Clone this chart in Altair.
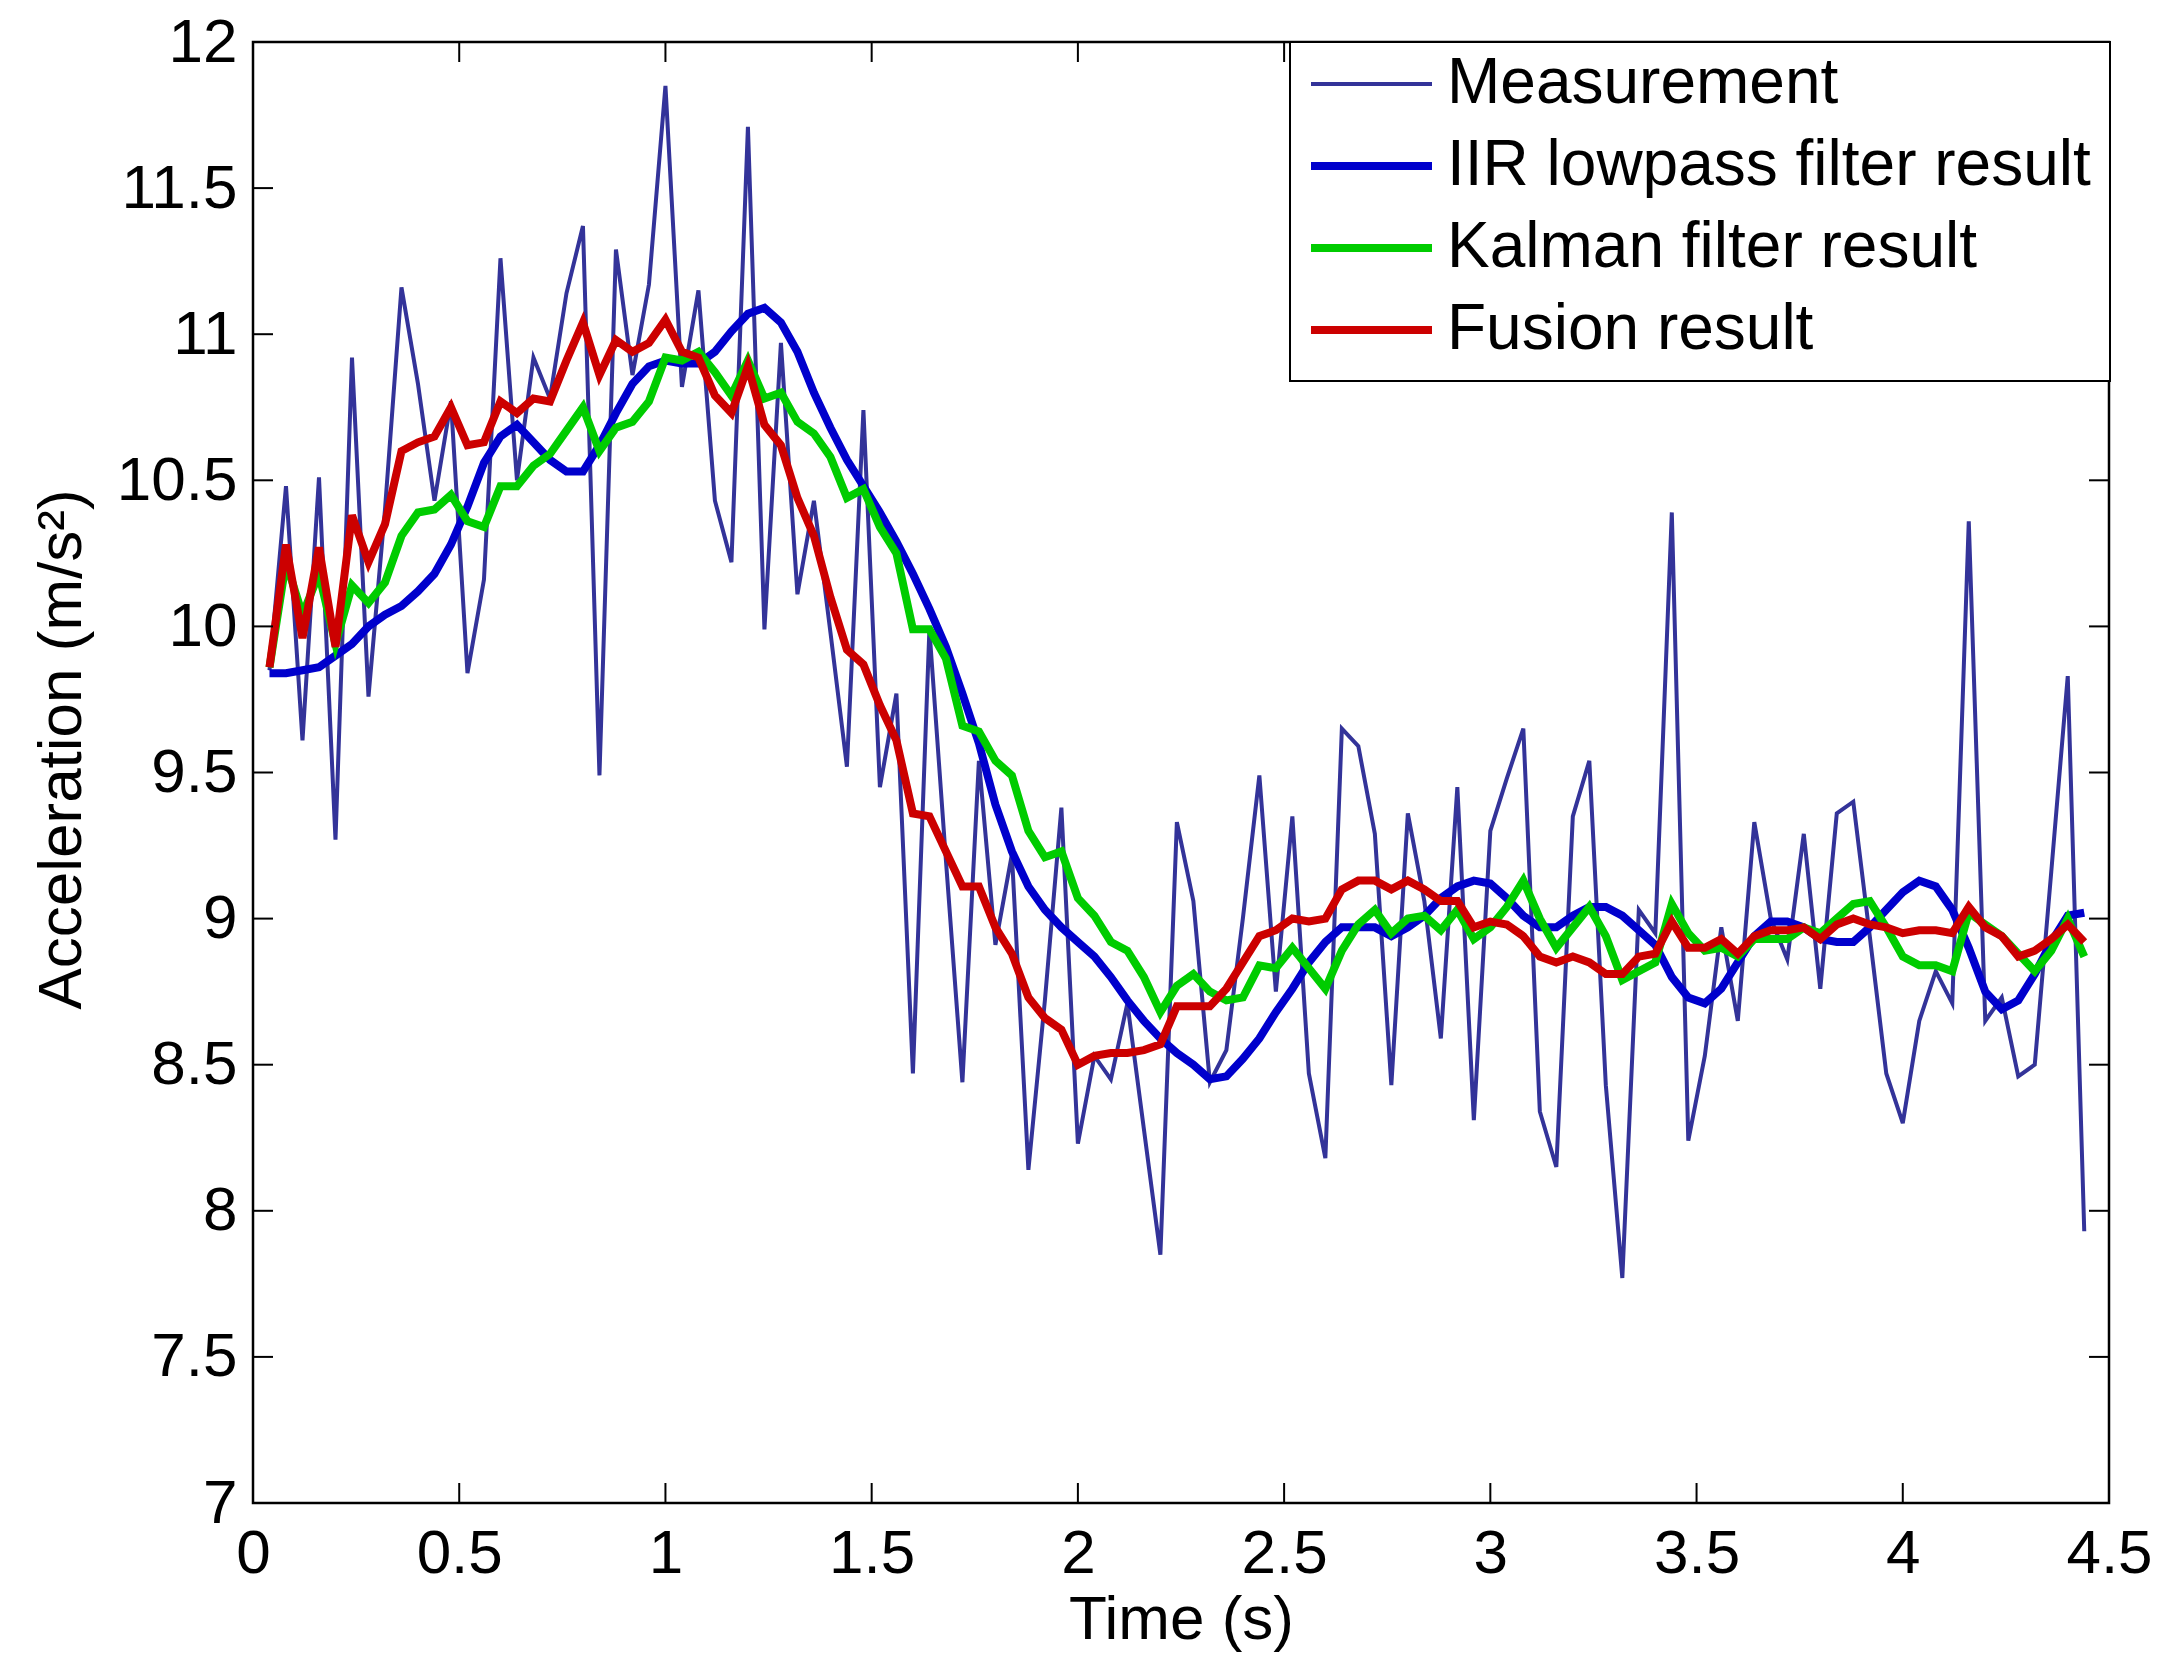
import altair as alt
import pandas as pd

# ---------------- data ----------------
time_s = [
    0.04, 0.08, 0.12, 0.16, 0.20, 0.24, 0.28, 0.32, 0.36, 0.40,
    0.44, 0.48, 0.52, 0.56, 0.60, 0.64, 0.68, 0.72, 0.76, 0.80,
    0.84, 0.88, 0.92, 0.96, 1.00, 1.04, 1.08, 1.12, 1.16, 1.20,
    1.24, 1.28, 1.32, 1.36, 1.40, 1.44, 1.48, 1.52, 1.56, 1.60,
    1.64, 1.68, 1.72, 1.76, 1.80, 1.84, 1.88, 1.92, 1.96, 2.00,
    2.04, 2.08, 2.12, 2.16, 2.20, 2.24, 2.28, 2.32, 2.36, 2.40,
    2.44, 2.48, 2.52, 2.56, 2.60, 2.64, 2.68, 2.72, 2.76, 2.80,
    2.84, 2.88, 2.92, 2.96, 3.00, 3.04, 3.08, 3.12, 3.16, 3.20,
    3.24, 3.28, 3.32, 3.36, 3.40, 3.44, 3.48, 3.52, 3.56, 3.60,
    3.64, 3.68, 3.72, 3.76, 3.80, 3.84, 3.88, 3.92, 3.96, 4.00,
    4.04, 4.08, 4.12, 4.16, 4.20, 4.24, 4.28, 4.32, 4.36, 4.40,
    4.44,
]

measurement = [
    9.85, 10.48, 9.61, 10.51, 9.27, 10.92, 9.76, 10.40, 11.16, 10.83,
    10.43, 10.77, 9.84, 10.16, 11.26, 10.50, 10.92, 10.78, 11.14, 11.37,
    9.49, 11.29, 10.86, 11.17, 11.85, 10.82, 11.15, 10.43, 10.22, 11.71,
    9.99, 10.97, 10.11, 10.43, 9.98, 9.52, 10.74, 9.45, 9.77, 8.47,
    9.99, 9.20, 8.44, 9.54, 8.91, 9.22, 8.14, 8.72, 9.38, 8.23,
    8.53, 8.45, 8.71, 8.28, 7.85, 9.33, 9.06, 8.44, 8.55, 9.00,
    9.49, 8.75, 9.35, 8.47, 8.18, 9.65, 9.59, 9.29, 8.43, 9.36,
    9.06, 8.59, 9.45, 8.31, 9.30, 9.48, 9.65, 8.34, 8.15, 9.35,
    9.54, 8.43, 7.77, 9.03, 8.95, 10.39, 8.24, 8.53, 8.97, 8.65,
    9.33, 9.00, 8.86, 9.29, 8.76, 9.36, 9.40, 8.94, 8.47, 8.30,
    8.65, 8.82, 8.71, 10.36, 8.65, 8.73, 8.46, 8.50, 9.16, 9.83,
    7.93,
]

iir_lowpass = [
    9.84, 9.84, 9.85, 9.86, 9.90, 9.94, 10.00, 10.04, 10.07, 10.12,
    10.18, 10.28, 10.41, 10.56, 10.65, 10.69, 10.63, 10.57, 10.53, 10.53,
    10.62, 10.73, 10.83, 10.89, 10.91, 10.90, 10.90, 10.94, 11.01, 11.07,
    11.09, 11.04, 10.94, 10.80, 10.68, 10.57, 10.48, 10.39, 10.29, 10.18,
    10.06, 9.93, 9.77, 9.60, 9.39, 9.23, 9.11, 9.03, 8.97, 8.92,
    8.87, 8.80, 8.72, 8.65, 8.59, 8.54, 8.50, 8.45, 8.46, 8.52,
    8.59, 8.68, 8.76, 8.85, 8.92, 8.97, 8.97, 8.97, 8.94, 8.97,
    9.01, 9.07, 9.11, 9.13, 9.12, 9.07, 9.01, 8.97, 8.97, 9.01,
    9.04, 9.04, 9.01, 8.96, 8.91, 8.80, 8.73, 8.71, 8.76, 8.85,
    8.94, 8.99, 8.99, 8.97, 8.93, 8.92, 8.92, 8.97, 9.03, 9.09,
    9.13, 9.11, 9.03, 8.90, 8.75, 8.69, 8.72, 8.81, 8.92, 9.01,
    9.02,
]

kalman = [
    9.86, 10.22, 10.04, 10.18, 9.94, 10.14, 10.08, 10.15, 10.31, 10.39,
    10.40, 10.45, 10.36, 10.34, 10.48, 10.48, 10.55, 10.59, 10.67, 10.75,
    10.60, 10.68, 10.70, 10.77, 10.92, 10.91, 10.94, 10.87, 10.79, 10.91,
    10.78, 10.80, 10.70, 10.66, 10.58, 10.44, 10.47, 10.34, 10.25, 9.99,
    9.99, 9.89, 9.66, 9.64, 9.54, 9.49, 9.30, 9.21, 9.23, 9.07,
    9.01, 8.92, 8.89, 8.80, 8.68, 8.77, 8.81, 8.75, 8.72, 8.73,
    8.84, 8.83, 8.90, 8.83, 8.76, 8.89, 8.98, 9.03, 8.95, 9.00,
    9.01, 8.96, 9.03, 8.93, 8.97, 9.04, 9.13, 9.00, 8.90, 8.97,
    9.04, 8.94, 8.79, 8.82, 8.85, 9.05, 8.95, 8.89, 8.90, 8.87,
    8.93, 8.93, 8.93, 8.97, 8.95, 9.00, 9.05, 9.06, 8.97, 8.87,
    8.84, 8.84, 8.82, 9.02, 8.98, 8.94, 8.88, 8.82, 8.89, 9.00,
    8.87,
]

fusion = [
    9.86, 10.28, 9.96, 10.27, 9.93, 10.38, 10.22, 10.35, 10.60, 10.63,
    10.65, 10.75, 10.62, 10.63, 10.77, 10.73, 10.78, 10.77, 10.91, 11.04,
    10.86, 10.98, 10.94, 10.97, 11.05, 10.94, 10.92, 10.79, 10.73, 10.89,
    10.69, 10.62, 10.44, 10.31, 10.10, 9.92, 9.87, 9.73, 9.61, 9.36,
    9.35, 9.23, 9.11, 9.11, 8.97, 8.88, 8.73, 8.66, 8.62, 8.50,
    8.53, 8.54, 8.54, 8.55, 8.57, 8.70, 8.70, 8.70, 8.76, 8.85,
    8.94, 8.96, 9.00, 8.99, 9.00, 9.10, 9.13, 9.13, 9.10, 9.13,
    9.10, 9.06, 9.06, 8.97, 8.99, 8.98, 8.94, 8.87, 8.85, 8.87,
    8.85, 8.81, 8.81, 8.87, 8.88, 8.99, 8.90, 8.90, 8.93, 8.88,
    8.94, 8.96, 8.96, 8.97, 8.93, 8.98, 9.00, 8.98, 8.97, 8.95,
    8.96, 8.96, 8.95, 9.04, 8.97, 8.94, 8.87, 8.89, 8.93, 8.98,
    8.92,
]

series_names = [
    "Measurement",
    "IIR lowpass filter result",
    "Kalman filter result",
    "Fusion result",
]
series_colors = ["#333399", "#0000CC", "#00CC00", "#CC0000"]
series_widths = [4, 8, 8, 8]

x_ticks = [0, 0.5, 1, 1.5, 2, 2.5, 3, 3.5, 4, 4.5]
y_ticks = [7, 7.5, 8, 8.5, 9, 9.5, 10, 10.5, 11, 11.5, 12]

# ---------------- tables ----------------
rows = []
for name, vals in zip(series_names, [measurement, iir_lowpass, kalman, fusion]):
    for t, v in zip(time_s, vals):
        rows.append({"time": t, "value": v, "series": name})
df = pd.DataFrame(rows)
xt = pd.DataFrame({"time": x_ticks})
yt = pd.DataFrame({"value": y_ticks})

W, H = 1856, 1461
FONT = "Liberation Sans"
FS = 62
TICK = 20

xscale = alt.Scale(domain=[0, 4.5], nice=False, zero=False)
yscale = alt.Scale(domain=[7, 12], nice=False, zero=False)

x_axis = alt.Axis(
    values=x_ticks,
    format="~g",
    title="Time (s)",
    titleFont=FONT,
    titleFontSize=FS,
    titleFontWeight="normal",
    titleColor="black",
    titleBaseline="alphabetic",
    titleY=135,
    labelFont=FONT,
    labelFontSize=FS,
    labelColor="black",
    labelPadding=20,
    labelFlush=False,
    labelOverlap=False,
    ticks=False,
    tickSize=0,
    domain=False,
    grid=False,
)
y_axis = alt.Axis(
    values=y_ticks,
    format="~g",
    title="Acceleration (m/s²)",
    titleFont=FONT,
    titleFontSize=FS,
    titleFontWeight="normal",
    titleColor="black",
    titleAngle=270,
    titleAlign="center",
    titleBaseline="alphabetic",
    titleX=-173,
    titleY=707,
    labelFont=FONT,
    labelFontSize=FS,
    labelColor="black",
    labelPadding=16,
    labelFlush=False,
    labelOverlap=False,
    ticks=False,
    tickSize=0,
    domain=False,
    grid=False,
)

legend_kw = dict(
    title=None,
    orient="none",
    legendX=1037,
    legendY=0,
    direction="vertical",
    columns=1,
    symbolType="stroke",
    symbolSize=14641,
    symbolOffset=-2,
    labelOffset=11,
    labelFont=FONT,
    labelFontSize=64,
    labelColor="black",
    labelLimit=2000,
    padding=19,
    clipHeight=46,
    rowPadding=18,
    fillColor="white",
    strokeColor="black",
)

X = lambda: alt.X("time:Q", scale=xscale, axis=x_axis)
Y = lambda: alt.Y("value:Q", scale=yscale, axis=y_axis)

lines = alt.Chart(df).mark_line().encode(
    x=X(),
    y=Y(),
    color=alt.Color(
        "series:N",
        scale=alt.Scale(domain=series_names, range=series_colors),
        sort=series_names,
        legend=alt.Legend(**legend_kw),
    ),
    strokeWidth=alt.StrokeWidth(
        "series:N",
        scale=alt.Scale(type="ordinal", domain=series_names, range=series_widths),
        sort=series_names,
        legend=alt.Legend(**legend_kw),
    ),
)

tick_style = dict(color="black", strokeWidth=2)
left_ticks = alt.Chart(yt).mark_rule(**tick_style).encode(
    y=Y(), x=alt.value(0), x2=alt.value(TICK)
)
right_ticks = alt.Chart(yt).mark_rule(**tick_style).encode(
    y=Y(), x=alt.value(W - TICK), x2=alt.value(W)
)
bottom_ticks = alt.Chart(xt).mark_rule(**tick_style).encode(
    x=X(), y=alt.value(H - TICK), y2=alt.value(H)
)
top_ticks = alt.Chart(xt).mark_rule(**tick_style).encode(
    x=X(), y=alt.value(0), y2=alt.value(TICK)
)

chart = (
    alt.layer(lines, left_ticks, right_ticks, bottom_ticks, top_ticks)
    .properties(
        width=W,
        height=H,
        padding={"left": 245, "top": 34, "right": 54, "bottom": 161},
        autosize=alt.AutoSizeParams(type="none"),
        background="white",
    )
    .configure_view(stroke="black", strokeWidth=2.5)
    .configure_legend(strokeWidth=2)
)

chart.save("out.html", embed_options={"renderer": "svg", "actions": False})
